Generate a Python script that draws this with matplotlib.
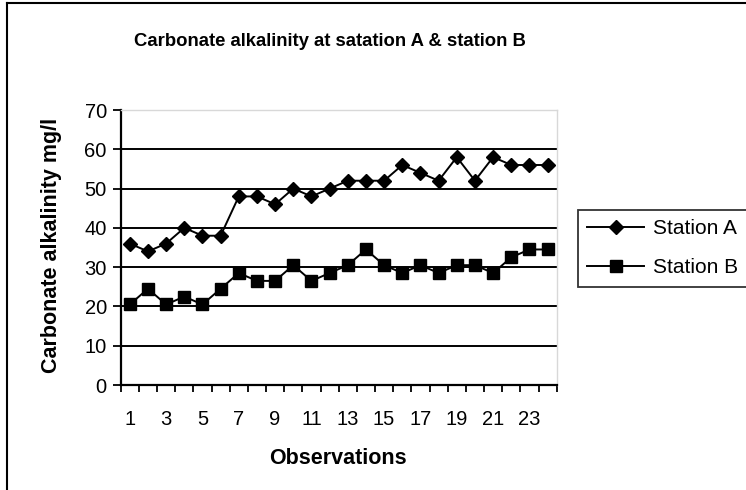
import matplotlib.pyplot as plt
from matplotlib.lines import Line2D

plt.rcParams['font.family'] = ['Liberation Sans', 'DejaVu Sans']

# Observations 1..24
obs = list(range(1, 25))
station_a = [36, 34, 36, 40, 38, 38, 48, 48, 46, 50, 48, 50,
             52, 52, 52, 56, 54, 52, 58, 52, 58, 56, 56, 56]
station_b = [20.5, 24.5, 20.5, 22.5, 20.5, 24.5, 28.5, 26.5, 26.5, 30.5, 26.5, 28.5,
             30.5, 34.5, 30.5, 28.5, 30.5, 28.5, 30.5, 30.5, 28.5, 32.5, 34.5, 34.5]
yticks = [0, 10, 20, 30, 40, 50, 60, 70]
xlabels = [str(i) for i in range(1, 24, 2)]

W, H = 746, 490
fig = plt.figure(figsize=(W / 100, H / 100), dpi=100)
fig.patch.set_facecolor('white')

# outer chart frame (only left and top visible)
fig.add_artist(Line2D([7 / W, 7 / W], [0, 1 - 3 / H], color='black', lw=1.5))
fig.add_artist(Line2D([7 / W, 1], [1 - 3 / H, 1 - 3 / H], color='black', lw=1.5))

ax = fig.add_axes([120.7 / W, 1 - 385 / H, 436 / W, 275 / H])

# horizontal gridlines
for y in yticks[1:-1]:
    ax.axhline(y, color='black', lw=1.4, zorder=1)

la, = ax.plot(obs, station_a, color='black', lw=1.4, marker='D', markersize=7.2,
              markerfacecolor='black', markeredgecolor='black', zorder=3)
lb, = ax.plot(obs, station_b, color='black', lw=1.4, marker='s', markersize=8.4,
              markerfacecolor='black', markeredgecolor='black', zorder=3)

ax.set_xlim(0.5, 24.5)
ax.set_ylim(0, 70)
ax.set_yticks(yticks)
ax.set_yticklabels([str(v) for v in yticks], fontsize=14.5)
ax.tick_params(axis='y', direction='out', length=6, width=1.3, pad=4)

# category boundary ticks, labels every other category
ax.set_xticks([i + 0.5 for i in range(0, 25)])
ax.set_xticklabels([])
ax.set_xticks(list(range(1, 24, 2)), minor=True)
ax.set_xticklabels(xlabels, minor=True, fontsize=14.5)
ax.tick_params(axis='x', which='major', direction='out', length=5, width=1.3)
ax.tick_params(axis='x', which='minor', length=0, pad=18)

for s in ['left', 'bottom']:
    ax.spines[s].set_color('black')
    ax.spines[s].set_linewidth(1.6)
for s in ['top', 'right']:
    ax.spines[s].set_color('#d8d8d8')
    ax.spines[s].set_linewidth(1.0)

fig.text(338 / W, 1 - 458 / H, 'Observations', ha='center', va='center',
         fontsize=15.5, fontweight='bold')
fig.text(52 / W, 1 - 245 / H, 'Carbonate alkalinity mg/l', ha='center', va='center',
         rotation=90, fontsize=15.5, fontweight='bold')
fig.text(330 / W, 1 - 41 / H, 'Carbonate alkalinity at satation A & station B',
         ha='center', va='center', fontsize=13.3, fontweight='bold')

leg = fig.legend([la, lb], ['Station A', 'Station B'], loc='upper left',
                 bbox_to_anchor=(578 / W, 1 - 210 / H), fontsize=15,
                 frameon=True, fancybox=False, edgecolor='black', handlelength=2.7,
                 borderpad=0.45, labelspacing=0.95, handletextpad=0.45, borderaxespad=0)
leg.get_frame().set_linewidth(1.3)

fig.savefig('out.png', dpi=100)
